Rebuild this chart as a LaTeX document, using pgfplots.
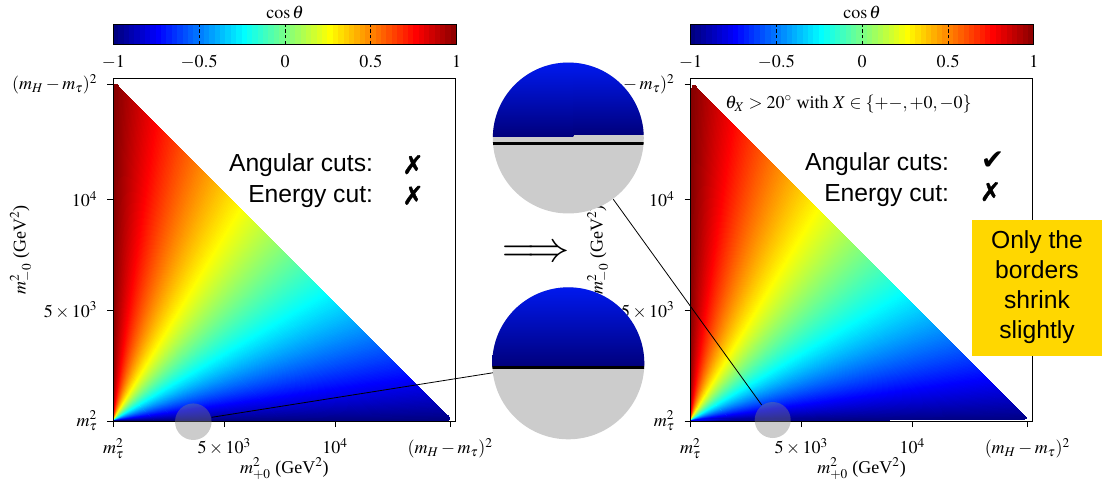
\documentclass[border=0pt]{standalone}
\usepackage{mathptmx}
\usepackage{fontspec}
\setmainfont{Liberation Serif}
\newfontfamily\sansf{Liberation Sans}
\newfontfamily\symf{DejaVu Sans}
\newfontfamily\symfb[FakeBold=1.6]{DejaVu Sans}
\usepackage{pgfplots}
\usepackage{pgfplotstable}
\pgfplotsset{compat=1.18}
\usepgfplotslibrary{patchplots}

\definecolor{insetgray}{RGB}{204,204,204}
\definecolor{boxgold}{RGB}{255,215,0}
\definecolor{insettop}{RGB}{0,25,240}
\definecolor{insetbot}{RGB}{0,0,125}

% fan patches from the corner (m_tau^2, m_tau^2): x y cos(theta)
\pgfplotstableread{
x y c
3.16 3.16 1
3.16 14700 1
20 15050 0.9978
3.16 3.16 0.9978
3.16 3.16 0.9978
20 15050 0.9978
70 15170 0.9912
3.16 3.16 0.9912
3.16 3.16 0.9912
70 15170 0.9912
160 15180 0.9795
3.16 3.16 0.9795
3.16 3.16 0.9795
160 15180 0.9795
300 15000 0.9612
3.16 3.16 0.9612
3.16 3.16 0.9612
300 15000 0.9612
2131.25 13168.75 0.7217
3.16 3.16 0.7217
3.16 3.16 0.7217
2131.25 13168.75 0.7217
3962.5 11337.5 0.4822
3.16 3.16 0.4822
3.16 3.16 0.4822
3962.5 11337.5 0.4822
5793.75 9506.25 0.2427
3.16 3.16 0.2427
3.16 3.16 0.2427
5793.75 9506.25 0.2427
7625 7675 0.0033
3.16 3.16 0.0033
3.16 3.16 0.0033
7625 7675 0.0033
9456.25 5843.75 -0.2362
3.16 3.16 -0.2362
3.16 3.16 -0.2362
9456.25 5843.75 -0.2362
11287.5 4012.5 -0.4757
3.16 3.16 -0.4757
3.16 3.16 -0.4757
11287.5 4012.5 -0.4757
13118.75 2181.25 -0.7152
3.16 3.16 -0.7152
3.16 3.16 -0.7152
13118.75 2181.25 -0.7152
14950 350 -0.9546
3.16 3.16 -0.9546
3.16 3.16 -0.9546
14950 350 -0.9546
15100 220 -0.9717
3.16 3.16 -0.9717
3.16 3.16 -0.9717
15100 220 -0.9717
15160 100 -0.9873
3.16 3.16 -0.9873
3.16 3.16 -0.9873
15160 100 -0.9873
15100 20 -0.9978
3.16 3.16 -0.9978
3.16 3.16 -0.9978
15100 20 -0.9978
14500 3.16 -1
3.16 3.16 -1
}\leftpatches

\pgfplotstableread{
x y c
3.16 3.16 0.9943
45 14600 0.9943
65 15000 0.9918
3.16 3.16 0.9918
3.16 3.16 0.9918
65 15000 0.9918
110 15130 0.9860
3.16 3.16 0.9860
3.16 3.16 0.9860
110 15130 0.9860
190 15140 0.9756
3.16 3.16 0.9756
3.16 3.16 0.9756
190 15140 0.9756
320 14960 0.9585
3.16 3.16 0.9585
3.16 3.16 0.9585
320 14960 0.9585
2146.25 13135 0.7195
3.16 3.16 0.7195
3.16 3.16 0.7195
2146.25 13135 0.7195
3972.5 11310 0.4806
3.16 3.16 0.4806
3.16 3.16 0.4806
3972.5 11310 0.4806
5798.75 9485 0.2416
3.16 3.16 0.2416
3.16 3.16 0.2416
5798.75 9485 0.2416
7625 7660 0.0026
3.16 3.16 0.0026
3.16 3.16 0.0026
7625 7660 0.0026
9451.25 5835 -0.2364
3.16 3.16 -0.2364
3.16 3.16 -0.2364
9451.25 5835 -0.2364
11277.5 4010 -0.4754
3.16 3.16 -0.4754
3.16 3.16 -0.4754
11277.5 4010 -0.4754
13103.75 2185 -0.7143
3.16 3.16 -0.7143
3.16 3.16 -0.7143
13103.75 2185 -0.7143
14930 360 -0.9533
3.16 3.16 -0.9533
3.16 3.16 -0.9533
14930 360 -0.9533
15070 240 -0.9690
3.16 3.16 -0.9690
3.16 3.16 -0.9690
15070 240 -0.9690
15130 140 -0.9820
3.16 3.16 -0.9820
3.16 3.16 -0.9820
15130 140 -0.9820
15060 80 -0.9898
3.16 3.16 -0.9898
3.16 3.16 -0.9898
15060 80 -0.9898
7000 75 -0.9797
3.16 3.16 -0.9797
3.16 3.16 -0.9797
7000 75 -0.9797
2000 72 -0.9334
3.16 3.16 -0.9334
3.16 3.16 -0.9334
2000 72 -0.9334
500 70 -0.7630
3.16 3.16 -0.7630
}\rightpatches

% colour scale strip: x y c
\pgfplotstableread{
x y c
-1 0 -1
1 0 1
1 1 1
-1 1 -1
}\scalestrip

\pgfplotsset{
  dalitz/.style={
    scale only axis, width=256.5pt, height=256.7pt,
    anchor=south west,
    xmin=3.16, xmax=15420, ymin=3.16, ymax=15430,
    axis on top,
    colormap/jet, point meta min=-1, point meta max=1,
    xtick={3.16,5000,10000,15184}, ytick={3.16,5000,10000,15184},
    xticklabels={$m_\tau^2$,$5\times10^3$,$10^4$,$(m_H-m_\tau)^2$},
    yticklabels={$m_\tau^2$,$5\times10^3$,$10^4$,$(m_H-m_\tau)^2$},
    tick align=outside, tick pos=left, major tick length=4.5pt,
    scaled ticks=false,
    tick style={black, line width=0.6pt},
    axis line style={line width=0.6pt},
    tick label style={font=\fontsize{13.5}{16}\selectfont},
    xticklabel style={yshift=-5pt},
    yticklabel style={xshift=-4pt},
    label style={font=\fontsize{13.5}{16}\selectfont},
    xlabel={$m^2_{+0}$ (GeV$^2$)}, ylabel={$m^2_{-0}$ (GeV$^2$)},
    xlabel style={at={(axis description cs:0.5,-0.14)}, anchor=center},
    ylabel style={at={(axis description cs:-0.27,0.5)}, anchor=center},
  },
  cbar/.style={
    scale only axis, width=257.5pt, height=15.2pt,
    anchor=south west,
    xmin=-1, xmax=1, ymin=0, ymax=1,
    axis on top,
    colormap/jet, point meta min=-1, point meta max=1,
    ytick=\empty,
    xtick={-1,-0.5,0,0.5,1},
    xticklabels={$-1$,$-0.5$,$0$,$0.5$,$1$},
    xtick pos=bottom,
    major tick length=0pt,
    axis line style={line width=0.6pt},
    xmajorgrids, major grid style={black, line width=0.6pt, dash pattern=on 2.6pt off 1.8pt},
    tick label style={font=\fontsize{13.5}{16}\selectfont},
    xticklabel style={anchor=north, yshift=-4.5pt},
    title={$\cos\theta$},
    every axis title/.style={at={(0.5,1)}, anchor=base, yshift=3.8pt,
      inner sep=0pt, font=\fontsize{13.5}{16}\selectfont},
  },
}

\begin{document}
\begin{tikzpicture}
% left panel
\begin{axis}[dalitz, at={(85pt,-315.75pt)}]
\addplot[patch, patch type=bilinear, shader=interp, point meta=explicit]
  table[x=x, y=y, meta=c] {\leftpatches};
\end{axis}
\begin{axis}[cbar, at={(85pt,-33.2pt)}]
\addplot[patch, patch type=bilinear, shader=interp, point meta=explicit]
  table[x=x, y=y, meta=c] {\scalestrip};
\end{axis}

% right panel
\begin{axis}[dalitz, at={(517.9pt,-315.75pt)}]
\addplot[patch, patch type=bilinear, shader=interp, point meta=explicit]
  table[x=x, y=y, meta=c] {\rightpatches};
\end{axis}
\begin{axis}[cbar, at={(517.9pt,-33.2pt)}]
\addplot[patch, patch type=bilinear, shader=interp, point meta=explicit]
  table[x=x, y=y, meta=c] {\scalestrip};
\end{axis}

\begin{scope}[x=0.75pt,y=-0.75pt]
% legends of the cuts
\node[font=\sansf\fontsize{18.5}{22}\selectfont, anchor=base east, inner sep=0] at (373.3,171.7) {Angular cuts:};
\node[font=\sansf\fontsize{18.5}{22}\selectfont, anchor=base east, inner sep=0] at (373.3,202.3) {Energy cut:};
\node[font=\symfb\fontsize{19}{22}\selectfont, inner sep=0] at (413,164.7) {✗};
\node[font=\symfb\fontsize{19}{22}\selectfont, inner sep=0] at (413,195.3) {✗};

\node[font=\sansf\fontsize{18.5}{22}\selectfont, anchor=base east, inner sep=0] at (949.3,170) {Angular cuts:};
\node[font=\sansf\fontsize{18.5}{22}\selectfont, anchor=base east, inner sep=0] at (949.3,201.7) {Energy cut:};
\node[font=\symf\fontsize{21}{22}\selectfont, inner sep=0] at (992.5,160.8) {✔};
\node[font=\symfb\fontsize{19}{22}\selectfont, inner sep=0] at (990.5,191.7) {✗};

\node[font=\fontsize{13.5}{16}\selectfont, anchor=base west, inner sep=0] at (725,108.3)
  {$\theta_X > 20^\circ$ with $X \in \{{+}{-}, {+}0, {-}0\}$};

% highlighted spots
\fill[gray, fill opacity=0.4] (193.3,421.7) circle[radius=13.7pt];
\fill[gray, fill opacity=0.4] (772.7,420) circle[radius=13.5pt];

% connecting lines
\draw[line width=0.6pt] (211.7,417.3) -- (493.3,372.7);
\draw[line width=0.6pt] (613.3,199.3) -- (761.7,405);

% top inset (with cuts)
\begin{scope}
\clip (568.3,138) circle[radius=56.6pt];
\fill[insetgray] (490,58) rectangle (650,218);
\shade[top color=insettop, bottom color=insetbot] (490,62) rectangle (573.3,136.3);
\shade[top color=insettop, bottom color=insetbot] (573.3,62) rectangle (650,134.3);
\fill[black] (490,141.7) rectangle (650,145);
\end{scope}

% bottom inset (no cuts)
\begin{scope}
\clip (568.3,363.3) circle[radius=57pt];
\fill[insetgray] (490,284) rectangle (650,443);
\shade[top color=insettop, bottom color=insetbot] (490,286) rectangle (650,366);
\fill[black] (490,366) rectangle (650,368.7);
\end{scope}

% arrow
\node[inner sep=0] at (535.8,253.3) {\resizebox{51pt}{!}{$\Longrightarrow$}};

% note box
\fill[boxgold] (972.3,220) rectangle (1101.7,356);
\node[font=\sansf\fontsize{18.5}{22.5}\selectfont, align=center, inner sep=0] at (1037,287)
  {Only the\\borders\\shrink\\slightly};

% fixed picture size
\pgfresetboundingbox
\useasboundingbox (0,0) rectangle (1102,483);
\end{scope}
\end{tikzpicture}
\end{document}
